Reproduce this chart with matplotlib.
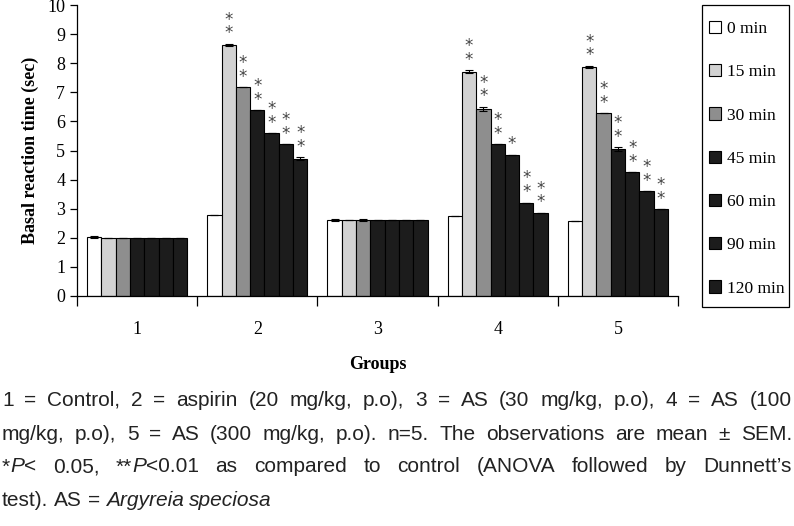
import matplotlib
matplotlib.use("Agg")
import matplotlib.pyplot as plt
from matplotlib import font_manager
from matplotlib.patches import Patch, Rectangle
import numpy as np

groups = ["1", "2", "3", "4", "5"]
times = ["0 min", "15 min", "30 min", "45 min", "60 min", "90 min", "120 min"]
# rows = time points, columns = groups
values = [
    [2.03, 2.78, 2.61, 2.75, 2.58],
    [2.00, 8.63, 2.61, 7.71, 7.87],
    [2.00, 7.17, 2.62, 6.43, 6.28],
    [2.00, 6.39, 2.61, 5.22, 5.05],
    [2.00, 5.60, 2.61, 4.85, 4.26],
    [2.00, 5.22, 2.61, 3.21, 3.61],
    [2.00, 4.72, 2.61, 2.86, 2.98],
]
errors = [
    [0.03, 0.0, 0.03, 0.0, 0.0],
    [0.0, 0.04, 0.0, 0.04, 0.04],
    [0.0, 0.0, 0.03, 0.07, 0.0],
    [0.0, 0.0, 0.0, 0.0, 0.07],
    [0.0, 0.0, 0.0, 0.0, 0.0],
    [0.0, 0.0, 0.0, 0.0, 0.0],
    [0.0, 0.04, 0.0, 0.0, 0.0],
]
stars = [
    ["", "", "", "", ""],
    ["", "**", "", "**", "**"],
    ["", "**", "", "**", "**"],
    ["", "**", "", "**", "**"],
    ["", "**", "", "*", "**"],
    ["", "**", "", "**", "**"],
    ["", "**", "", "**", "**"],
]
colors = ["white", "#d2d2d2", "#8e8e8e", "#1c1c1c", "#1c1c1c", "#1c1c1c", "#1c1c1c"]

installed = {f.name for f in font_manager.fontManager.ttflist}
serif = "Liberation Serif"
cap_font = "Liberation Sans Narrow" if "Liberation Sans Narrow" in installed else "Liberation Sans"

fig = plt.figure(figsize=(7.94, 5.26), dpi=100)
ax = fig.add_axes([77 / 794, 1 - 296 / 526, 601 / 794, 291 / 526])

x = np.arange(1, len(groups) + 1)
w = 100 / 120 / 7
for i, t in enumerate(times):
    pos = x + (i - 3) * w
    ax.bar(pos, values[i], w, color=colors[i], edgecolor="black", linewidth=0.8,
           yerr=errors[i], error_kw=dict(ecolor="black", capsize=3, elinewidth=0.8, capthick=0.8))
    for j in range(len(groups)):
        s = stars[i][j]
        if s:
            ax.annotate("\n".join(s), (pos[j], values[i][j] + errors[i][j]),
                        xytext=(0, 1), textcoords="offset points",
                        ha="center", va="bottom", fontsize=12, color="#444444",
                        linespacing=0.7, family="DejaVu Sans")

ax.set_xlim(0.5, 5.5)
ax.set_ylim(0, 10)
ax.set_yticks(range(0, 11))
ax.set_xticks(x)
ax.set_xticklabels(groups)
ax.set_xticks(np.arange(0.5, 5.6, 1), minor=True)
ax.tick_params(axis="x", which="major", length=0, pad=18)
ax.tick_params(axis="x", which="minor", length=7, width=0.9)
ax.tick_params(axis="y", length=5, width=0.9)
for lab in ax.get_xticklabels() + ax.get_yticklabels():
    lab.set_family(serif)
    lab.set_fontsize(13)
for sp in ["top", "right"]:
    ax.spines[sp].set_visible(False)
for sp in ["left", "bottom"]:
    ax.spines[sp].set_linewidth(0.9)
ax.set_xlabel("Groups", family=serif, fontweight="bold", fontsize=13, labelpad=13)
ax.set_ylabel("Basal reaction time (sec)", family=serif, fontweight="bold", fontsize=13, labelpad=6)

# legend box drawn by hand, entries by the legend
fig.patches.append(Rectangle((702 / 794, 1 - 307 / 526), 87 / 794, 302 / 526,
                             transform=fig.transFigure, facecolor="white",
                             edgecolor="black", linewidth=0.9))
handles = [Patch(facecolor=c, edgecolor="black", linewidth=0.8) for c in colors]
leg = fig.legend(handles, times, loc="upper left", bbox_to_anchor=(709 / 794, 1 - 21 / 526),
                 prop={"family": serif, "size": 12.5}, frameon=False,
                 handlelength=0.7, handleheight=0.7, handletextpad=0.35,
                 labelspacing=1.56, borderpad=0, borderaxespad=0)

# caption, justified word by word
caption = [
    [("1 = Control, 2 = aspirin (20 mg/kg, p.o), 3 = AS (30 mg/kg, p.o), 4 = AS (100", "normal")],
    [("mg/kg, p.o), 5 = AS (300 mg/kg, p.o). n=5. The observations are mean \u00b1 SEM.", "normal")],
    [("*", "normal"), ("P", "italic"), ("< 0.05, **", "normal"), ("P", "italic"),
     ("<0.01 as compared to control (ANOVA followed by Dunnett\u2019s", "normal")],
    [("test). AS = ", "normal"), ("Argyreia speciosa", "italic")],
]
justify = [True, True, True, False]
line_y = [400, 434, 467, 500]
renderer = fig.canvas.get_renderer()
left_px, right_px = 2, 792
cap_size = 15


def width_of(s, style):
    t = fig.text(0, 0, s, family=cap_font, style=style, fontsize=cap_size)
    bb = t.get_window_extent(renderer)
    t.remove()
    return bb.width


for segs, just, yy in zip(caption, justify, line_y):
    # split into words keeping style; segments glued when no space between them
    words = []
    for text, style in segs:
        parts = text.split(" ")
        for k, p in enumerate(parts):
            if k == 0 and words:
                words[-1].append((p, style))
            else:
                words.append([(p, style)])
    words = [[(p, s) for p, s in wd if p] for wd in words]
    words = [wd for wd in words if wd]
    widths = [sum(width_of(p, s) for p, s in wd) for wd in words]
    space = width_of("a a", "normal") - 2 * width_of("a", "normal")
    if just:
        gap = (right_px - left_px - sum(widths)) / (len(words) - 1)
    else:
        gap = space
    xp = left_px
    for wd, ww in zip(words, widths):
        xx = xp
        for p, s in wd:
            fig.text(xx / 794, 1 - yy / 526, p, family=cap_font, style=s,
                     fontsize=cap_size, va="center", ha="left", color="#222222")
            xx += width_of(p, s)
        xp += ww + gap

fig.savefig("out.png", dpi=100)
